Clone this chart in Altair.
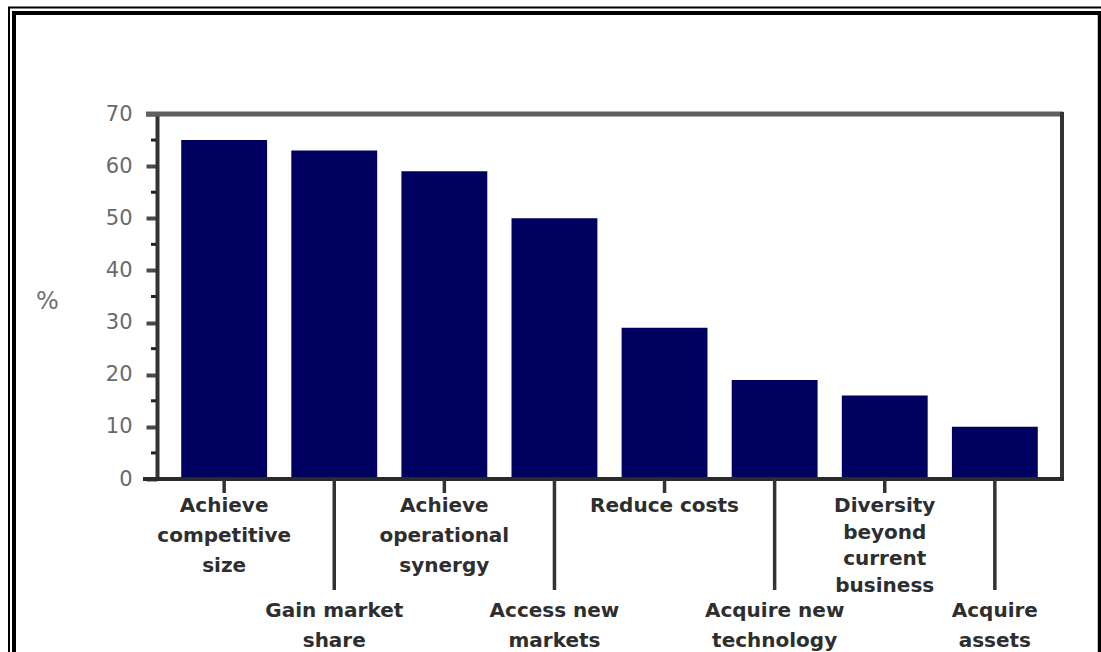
import altair as alt
import pandas as pd

categories = [
    "Achieve competitive size", "Gain market share", "Achieve operational synergy",
    "Access new markets", "Reduce costs", "Acquire new technology",
    "Diversity beyond current business", "Acquire assets",
]
values = [65, 63, 59, 50, 29, 19, 16, 10]
label_lines = [
    ["Achieve", "competitive", "size"],
    ["Gain market", "share"],
    ["Achieve", "operational", "synergy"],
    ["Access new", "markets"],
    ["Reduce costs"],
    ["Acquire new", "technology"],
    ["Diversity", "beyond", "current", "business"],
    ["Acquire", "assets"],
]
label_row = [0, 1, 0, 1, 0, 1, 0, 1]
y_ticks = [0, 10, 20, 30, 40, 50, 60, 70]
minor_ticks = [5, 15, 25, 35, 45, 55, 65]

W, H = 905, 365

df = pd.DataFrame({
    "cat": categories,
    "val": values,
    "lines": label_lines,
    "row": label_row,
    "n": [len(l) for l in label_lines],
})
minor_df = pd.DataFrame({"val": minor_ticks})
one = pd.DataFrame({"k": [0]})

x_scale = alt.Scale(domain=categories, paddingInner=0.22, paddingOuter=0.22)
y_scale = alt.Scale(domain=[0, 70], nice=False)
X = alt.X("cat:N", scale=x_scale, sort=None, axis=None)

y_axis = alt.Axis(
    values=y_ticks, title="%", titleAngle=0, titleX=-110, titleY=187,
    titleAlign="center", titleBaseline="middle",
    titleFont="DejaVu Sans", titleFontSize=24, titleFontWeight="normal",
    titleColor="#707070",
    labelFont="DejaVu Sans", labelFontSize=21, labelColor="#6a6a6a",
    labelPadding=14, labelFlush=False, labelOverlap=False,
    tickSize=11, tickWidth=4, tickColor="#4a4a4a",
    domainColor="#333333", domainWidth=4, grid=False,
)

base = alt.Chart(df)

bars = base.mark_bar(color="#000060").encode(
    x=X,
    y=alt.Y("val:Q", scale=y_scale, axis=y_axis),
)

minor = alt.Chart(minor_df).mark_rule(color="#222222", strokeWidth=3).encode(
    y=alt.Y("val:Q", scale=y_scale, axis=y_axis),
    x=alt.value(-6), x2=alt.value(-1),
)

def rule(color, width, **enc):
    return alt.Chart(one).mark_rule(color=color, strokeWidth=width).encode(
        **{k: alt.value(v) for k, v in enc.items()}
    )

plot_top = rule("#5f5f5f", 5, x=-11, x2=W + 1, y=0)
plot_right = rule("#333333", 4, x=W, y=-2, y2=H + 2)
plot_bottom = rule("#2a2a2a", 4, x=-14, x2=W + 2, y=H)

short_ticks = base.transform_filter("datum.row == 0").mark_rule(
    color="#333333", strokeWidth=3.5
).encode(x=X, y=alt.value(H), y2=alt.value(H + 14))
long_ticks = base.transform_filter("datum.row == 1").mark_rule(
    color="#333333", strokeWidth=3.5
).encode(x=X, y=alt.value(H), y2=alt.value(H + 111))

text_style = dict(font="DejaVu Sans", fontSize=20, fontWeight="bold",
                  color="#2e2e2e", align="center", baseline="alphabetic")
top_text = base.transform_filter("datum.row == 0 && datum.n < 4").mark_text(
    lineHeight=30, **text_style
).encode(x=X, y=alt.value(398), text="lines")
top_text4 = base.transform_filter("datum.row == 0 && datum.n >= 4").mark_text(
    lineHeight=26.7, **text_style
).encode(x=X, y=alt.value(398), text="lines")
bottom_text = base.transform_filter("datum.row == 1").mark_text(
    lineHeight=30, **text_style
).encode(x=X, y=alt.value(503), text="lines")

page_left_thin = rule("#000000", 2, x=-148, y=-107, y2=H + 180)
page_left_thick = rule("#000000", 4, x=-143, y=-101, y2=H + 180)
page_top_thin = rule("#000000", 2, x=-149, x2=W + 45, y=-106.5)
page_top_thick = rule("#000000", 4, x=-145, x2=W + 45, y=-101)
page_right_thick = rule("#000000", 3.5, x=942.5, y=-103, y2=H + 180)

chart = alt.layer(
    bars, minor, plot_top, plot_right, plot_bottom, short_ticks, long_ticks,
    top_text, top_text4, bottom_text,
    page_left_thin, page_left_thick, page_top_thin, page_top_thick, page_right_thick,
).properties(
    width=W, height=H,
    padding={"left": 157, "top": 114, "right": 39, "bottom": 173},
    autosize=alt.AutoSizeParams(type="none"),
    background="white",
).configure_view(stroke=None)

chart.save("out.html", embed_options={"renderer": "svg", "actions": False})
